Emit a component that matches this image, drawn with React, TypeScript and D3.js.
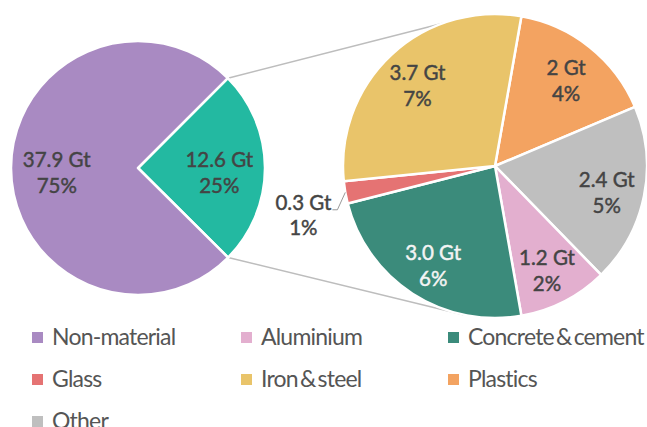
import React from "react";
import * as d3 from "d3";

const leftCategories = ["Material", "Non-material"];
const leftValues = [12.6, 37.9];
const leftValueLabels = ["12.6 Gt", "37.9 Gt"];
const leftPercents = ["25%", "75%"];
const leftColors = ["#23b9a1", "#a98ac2"];

const rightCategories = ["Plastics", "Other", "Aluminium", "Concrete & cement", "Glass", "Iron & steel"];
const rightValues = [2, 2.4, 1.2, 3.0, 0.3, 3.7];
const rightValueLabels = ["2 Gt", "2.4 Gt", "1.2 Gt", "3.0 Gt", "0.3 Gt", "3.7 Gt"];
const rightPercents = ["4%", "5%", "2%", "6%", "1%", "7%"];
const rightColors = ["#f3a361", "#bfbfbf", "#e3afcf", "#3b8b7b", "#e57373", "#e9c46a"];
const rightTextColors = ["#444", "#444", "#444", "#f4f4f4", "#444", "#444"];

const legendLabels = ["Non-material", "Aluminium", "Concrete & cement", "Glass", "Iron & steel", "Plastics", "Other"];
const legendColors = ["#a98ac2", "#e3afcf", "#3b8b7b", "#e57373", "#e9c46a", "#f3a361", "#bfbfbf"];

const W = 647;
const H = 427;
const FONT = "Lato, 'Open Sans', sans-serif";
const deg = Math.PI / 180;

export default function App() {
  const lc = { x: 138, y: 168, r: 127 };
  const rc = { x: 495, y: 166, r: 152 };

  const leftPie = d3.pie<number>().sort(null).startAngle(45 * deg).endAngle(405 * deg)(leftValues);
  const rightPie = d3.pie<number>().sort(null).startAngle(10 * deg).endAngle(370 * deg)(rightValues);

  const leftArc = d3.arc<any>().innerRadius(0).outerRadius(lc.r);
  const rightArc = d3.arc<any>().innerRadius(0).outerRadius(rc.r);
  const leftLabelArc = d3.arc<any>().innerRadius(lc.r * 0.64).outerRadius(lc.r * 0.64);
  const rightLabelArc = d3.arc<any>().innerRadius(rc.r * 0.75).outerRadius(rc.r * 0.75);
  const outerLabelArc = d3.arc<any>().innerRadius(rc.r * 1.28).outerRadius(rc.r * 1.28);
  const edgeArc = d3.arc<any>().innerRadius(rc.r).outerRadius(rc.r);

  const polar = (c: { x: number; y: number }, r: number, a: number) => [c.x + r * Math.sin(a), c.y - r * Math.cos(a)];

  const mat = leftPie[0];
  const p1 = polar(lc, lc.r, mat.startAngle);
  const p2 = polar(lc, lc.r, mat.endAngle);
  const q1 = polar(rc, rc.r, 340 * deg);
  const q2 = polar(rc, rc.r, 192 * deg);

  const legendCols = [32, 241, 448];
  const legendRows = [345, 387, 429];

  const labelProps = (color: string) => ({
    textAnchor: "middle" as const,
    fill: color,
    stroke: color,
    strokeWidth: 0.45,
    fontSize: 20.5,
  });

  return (
    <svg width={W} height={H} style={{ position: "absolute", left: 0, top: 0, background: "#fff" }} fontFamily={FONT}>
      <line x1={p1[0]} y1={p1[1]} x2={q1[0]} y2={q1[1]} stroke="#bdbdbd" strokeWidth={1.5} />
      <line x1={p2[0]} y1={p2[1]} x2={q2[0]} y2={q2[1]} stroke="#bdbdbd" strokeWidth={1.5} />

      <g transform={`translate(${lc.x},${lc.y})`}>
        {leftPie.map((d, i) => (
          <path key={leftCategories[i]} d={leftArc(d) as string} fill={leftColors[i]} stroke="#fff" strokeWidth={2.5} strokeLinejoin="round" />
        ))}
        {leftPie.map((d, i) => {
          const [cx, cy] = leftLabelArc.centroid(d);
          return (
            <text key={"l" + i} {...labelProps("#444")}>
              <tspan x={cx} y={cy - 1}>{leftValueLabels[i]}</tspan>
              <tspan x={cx} y={cy + 25}>{leftPercents[i]}</tspan>
            </text>
          );
        })}
      </g>

      <g transform={`translate(${rc.x},${rc.y})`}>
        {rightPie.map((d, i) => (
          <path key={rightCategories[i]} d={rightArc(d) as string} fill={rightColors[i]} stroke="#fff" strokeWidth={2.5} strokeLinejoin="round" />
        ))}
        {rightPie.map((d, i) => {
          const small = rightValues[i] < 1;
          if (small) {
            const [ox, oy] = outerLabelArc.centroid(d);
            const [ex, ey] = edgeArc.centroid(d);
            return (
              <g key={"r" + i}>
                <polyline
                  points={`${ex},${ey} ${ox + 34},${oy + 10} ${ox + 29},${oy + 10}`}
                  fill="none"
                  stroke="#999"
                  strokeWidth={1}
                />
                <text {...labelProps("#444")}>
                  <tspan x={ox} y={oy + 10}>{rightValueLabels[i]}</tspan>
                  <tspan x={ox} y={oy + 35}>{rightPercents[i]}</tspan>
                </text>
              </g>
            );
          }
          const [cx, cy] = rightLabelArc.centroid(d);
          return (
            <text key={"r" + i} {...labelProps(rightTextColors[i])}>
              <tspan x={cx} y={cy - 2}>{rightValueLabels[i]}</tspan>
              <tspan x={cx} y={cy + 24}>{rightPercents[i]}</tspan>
            </text>
          );
        })}
      </g>

      <g>
        {legendLabels.map((lab, i) => {
          const x = legendCols[i % 3];
          const y = legendRows[Math.floor(i / 3)];
          return (
            <g key={lab}>
              <rect x={x} y={y - 13} width={11} height={11} fill={legendColors[i]} />
              <text x={x + 20} y={y} fontSize={23} fill="#555" letterSpacing={-0.8} wordSpacing={-3}>
                {lab}
              </text>
            </g>
          );
        })}
      </g>
    </svg>
  );
}
